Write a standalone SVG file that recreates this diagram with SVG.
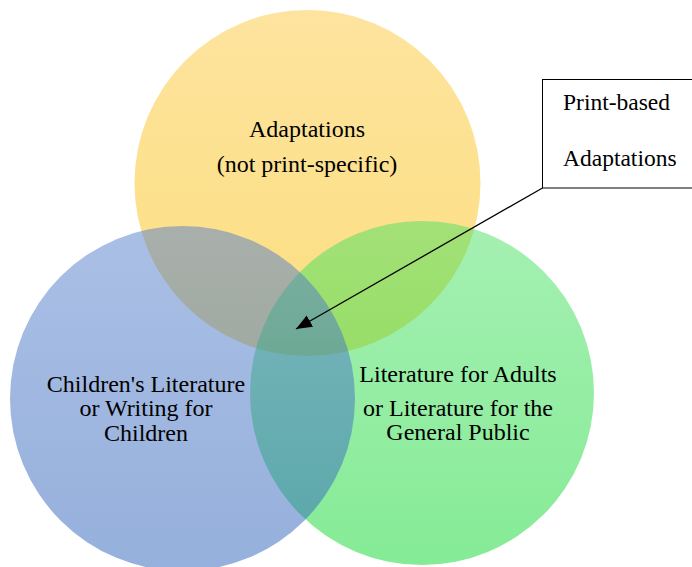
<svg xmlns="http://www.w3.org/2000/svg" width="692" height="567" viewBox="0 0 692 567">
  <defs>
    <linearGradient id="gYellow" x1="0" y1="0" x2="0" y2="1">
      <stop offset="0" stop-color="#fcc83e"/>
      <stop offset="1" stop-color="#f8be00"/>
    </linearGradient>
    <linearGradient id="gGreen" x1="0" y1="0" x2="0" y2="1">
      <stop offset="0" stop-color="#4be165"/>
      <stop offset="1" stop-color="#0bd72d"/>
    </linearGradient>
    <linearGradient id="gBlue" x1="0" y1="0" x2="0" y2="1">
      <stop offset="0" stop-color="#557fcb"/>
      <stop offset="1" stop-color="#2b61b9"/>
    </linearGradient>
    <marker id="arrowHead" markerWidth="17" markerHeight="14" refX="16" refY="6.5" orient="auto" markerUnits="userSpaceOnUse">
      <path d="M0,0 L16,6.5 L0,13 Z" fill="#000"/>
    </marker>
  </defs>
  <style>
    .set { opacity: 0.5; }
    .label { font-family: "Liberation Serif", "DejaVu Serif", serif; font-size: 24px; fill: #000; text-anchor: middle; }
    .callout { font-family: "Liberation Serif", "DejaVu Serif", serif; font-size: 23.5px; fill: #000; }
  </style>

  <rect width="692" height="567" fill="#ffffff"/>

  <g id="adaptations">
    <circle class="set" cx="307.5" cy="183" r="173" fill="url(#gYellow)"/>
    <text class="label" x="307" y="137">Adaptations</text>
    <text class="label" x="307" y="172">(not print-specific)</text>
  </g>

  <g id="adult-literature">
    <circle class="set" cx="422" cy="393" r="172" fill="url(#gGreen)"/>
    <text class="label" x="458" y="382">Literature for Adults</text>
    <text class="label" x="458" y="416">or Literature for the</text>
    <text class="label" x="458" y="440">General Public</text>
  </g>

  <g id="childrens-literature">
    <circle class="set" cx="182.5" cy="398.5" r="172.5" fill="url(#gBlue)"/>
    <text class="label" x="146" y="392">Children's Literature</text>
    <text class="label" x="146" y="416">or Writing for</text>
    <text class="label" x="146" y="441">Children</text>
  </g>

  <g id="print-based-callout">
    <rect x="542.5" y="79.5" width="160" height="108.5" fill="#ffffff" stroke="#000" stroke-width="1"/>
    <text class="callout" x="563" y="110">Print-based</text>
    <text class="callout" x="563" y="166">Adaptations</text>
  </g>

  <g id="connectors">
    <line x1="542.5" y1="188" x2="296" y2="329" stroke="#000" stroke-width="1.3" marker-end="url(#arrowHead)"/>
  </g>
</svg>
